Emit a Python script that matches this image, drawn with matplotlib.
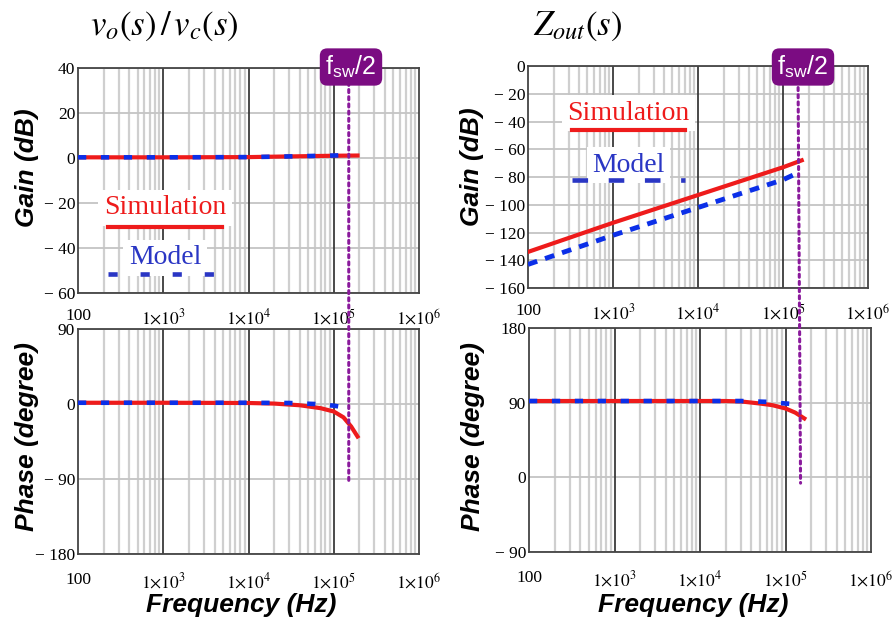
import matplotlib
matplotlib.use("Agg")
import matplotlib.pyplot as plt
from matplotlib.patches import ConnectionPatch
from matplotlib.lines import Line2D
from matplotlib.ticker import FixedLocator, FixedFormatter, NullLocator
import numpy as np

plt.rcParams['mathtext.fontset'] = 'stix'

# ---- data ----
x_ticks = [1e2, 1e3, 1e4, 1e5, 1e6]
x_tick_labels = ['100', r'$1{\times}10^{3}$', r'$1{\times}10^{4}$', r'$1{\times}10^{5}$', r'$1{\times}10^{6}$']
f_half = 1.5e5

# vo/vc gain (dB)
vc_gain_sim_f = [100, 1e3, 1e4, 3e4, 1e5, 1.9e5]
vc_gain_sim = [0.3, 0.3, 0.4, 0.7, 1.0, 1.1]
vc_gain_mod_f = [100, 1e3, 1e4, 3e4, 1e5, 1.5e5]
vc_gain_mod = [0.3, 0.3, 0.4, 0.7, 1.1, 1.3]

# vo/vc phase (deg)
vc_ph_sim_f = [100, 1e3, 1e4, 2e4, 4e4, 7e4, 1e5, 1.3e5, 1.6e5, 1.9e5]
vc_ph_sim = [1.5, 1.5, 1.2, 0.5, -1.5, -5, -9, -16, -27, -39]
vc_ph_mod_f = [100, 1e3, 1e4, 3e4, 6e4, 1e5, 1.5e5]
vc_ph_mod = [1.5, 1.5, 1.5, 1.2, 0, -2, -5]

# Zout gain (dB)
z_gain_sim_f = [100, 1e3, 1e4, 1e5, 1.66e5]
z_gain_sim = [-134, -113, -93, -73, -68]
z_gain_mod_f = [100, 1e3, 1e4, 1e5, 1.5e5]
z_gain_mod = [-143, -122, -102, -82, -77]

# Zout phase (deg)
z_ph_sim_f = [100, 1e3, 1e4, 2e4, 3e4, 5e4, 7e4, 1e5, 1.3e5, 1.66e5]
z_ph_sim = [92, 92, 92, 92, 91.5, 89, 87, 83, 78, 71]
z_ph_mod_f = [100, 1e3, 1e4, 3e4, 6e4, 1e5, 1.5e5]
z_ph_mod = [92, 92, 92, 92, 91, 89, 88]

tl_yticks = [40, 20, 0, -20, -40, -60]
tr_yticks = [0, -20, -40, -60, -80, -100, -120, -140, -160]
bl_yticks = [90, 0, -90, -180]
br_yticks = [180, 90, 0, -90]

RED = '#ee1b1b'
BLUE = '#0b2fe8'
LBLUE = '#2a36c4'
PURPLE = '#7b0c82'
DOT = '#8a1a9c'
serif = 'Liberation Serif'
sans = 'Liberation Sans'

fig = plt.figure(figsize=(8.94, 6.21), dpi=100)
W, H = 894, 621


def make_ax(l, t, r, b):
    return fig.add_axes([l / W, 1 - b / H, (r - l) / W, (b - t) / H])


def ylab(v):
    return str(v) if v >= 0 else '\u2212 ' + str(-v)


def style(ax, yticks, xpad):
    ax.set_xscale('log')
    ax.set_xlim(1e2, 1e6)
    ax.set_ylim(min(yticks), max(yticks))
    ax.xaxis.set_major_locator(FixedLocator(x_ticks))
    ax.xaxis.set_major_formatter(FixedFormatter(x_tick_labels))
    ax.xaxis.set_minor_locator(NullLocator())
    ax.set_yticks(yticks)
    ax.set_yticklabels([ylab(v) for v in yticks])
    ax.tick_params(length=0, labelsize=12.5)
    ax.tick_params(axis='x', pad=xpad)
    ax.tick_params(axis='y', pad=2)
    for lb in ax.get_xticklabels() + ax.get_yticklabels():
        lb.set_fontfamily(serif)
    for dec in [1e2, 1e3, 1e4, 1e5]:
        for k in range(2, 10):
            ax.axvline(dec * k, color='#cfcfcf', lw=1.6, zorder=0)
    for dec in [1e3, 1e4, 1e5]:
        ax.axvline(dec, color='#3a3a3a', lw=1.3, zorder=0.5)
    for v in yticks:
        ax.axhline(v, color='#c4c4c4', lw=1.3, zorder=0.4)
    for s in ax.spines.values():
        s.set_color('#444444')
        s.set_linewidth(1.3)


ax_tl = make_ax(78, 68, 419, 293)
ax_tr = make_ax(528, 66, 868, 288)
ax_bl = make_ax(78, 329, 419, 554)
ax_br = make_ax(529, 328, 871, 552)

style(ax_tl, tl_yticks, 11)
style(ax_tr, tr_yticks, 11)
style(ax_bl, bl_yticks, 13)
style(ax_br, br_yticks, 13)

ax_tl.plot(vc_gain_sim_f, vc_gain_sim, color=RED, lw=3, zorder=3)
ax_tl.plot(vc_gain_mod_f, vc_gain_mod, color=BLUE, lw=3.3, dashes=(1.8, 3.2), zorder=4)
ax_bl.plot(vc_ph_sim_f, vc_ph_sim, color=RED, lw=3, zorder=3)
ax_bl.plot(vc_ph_mod_f, vc_ph_mod, color=BLUE, lw=3.3, dashes=(1.8, 3.2), zorder=4)
ax_tr.plot(z_gain_sim_f, z_gain_sim, color=RED, lw=3, zorder=3)
ax_tr.plot(z_gain_mod_f, z_gain_mod, color=BLUE, lw=3.5, dashes=(2.0, 1.7), zorder=4)
ax_br.plot(z_ph_sim_f, z_ph_sim, color=RED, lw=3, zorder=3)
ax_br.plot(z_ph_mod_f, z_ph_mod, color=BLUE, lw=3.3, dashes=(1.8, 3.2), zorder=4)

# hand-made legends
def legend(ax, xs, ys, ym, ls, lm, dash):
    ax.text(sum(xs) / 2, ys, 'Simulation', transform=ax.transAxes, color=RED,
            fontsize=20, family=serif, ha='center', va='center', zorder=5,
            bbox=dict(fc='white', ec='none', pad=4))
    ax.text(sum(xs) / 2, ym, 'Model', transform=ax.transAxes, color=LBLUE,
            fontsize=20, family=serif, ha='center', va='center', zorder=5,
            bbox=dict(fc='white', ec='none', pad=4))
    ax.add_line(Line2D(xs, [ls, ls], transform=ax.transAxes, color=RED, lw=3, zorder=6))
    ax.add_line(Line2D(xs, [lm, lm], transform=ax.transAxes, color=LBLUE, lw=3.3,
                       dashes=dash, zorder=6))

legend(ax_tl, [0.088, 0.422], 0.378, 0.156, 0.293, 0.084, (2.0, 5.0))
legend(ax_tr, [0.129, 0.462], 0.788, 0.554, 0.712, 0.486, (3.4, 4.5))

# fsw/2 markers
for ax_top, ax_bot, y_top, y_bot, xc in [(ax_tl, ax_bl, 40, -95, 351), (ax_tr, ax_br, 0, -7, 803)]:
    con = ConnectionPatch(xyA=(f_half, y_top), coordsA=ax_top.transData,
                          xyB=(f_half, y_bot), coordsB=ax_bot.transData,
                          color=DOT, lw=2.2, linestyle=(0, (1.0, 1.35)), zorder=8)
    fig.add_artist(con)
    fig.text(xc / W, 1 - 67 / H, r'f$_{\mathregular{sw}}$/2', color='white',
             fontsize=18, family=sans, ha='center', va='center', zorder=10,
             bbox=dict(boxstyle='round,pad=0.22,rounding_size=0.3', fc=PURPLE, ec='none'))

# titles
fig.text(164 / W, 1 - 26 / H, r'$v_o(s)\,/\,v_c(s)$', fontsize=25, ha='center', va='center')
fig.text(578 / W, 1 - 26 / H, r'$Z_{out}(s)$', fontsize=25, ha='center', va='center')

# axis labels
lab = dict(fontsize=19, family=sans, weight='bold', style='italic', ha='center', va='center')
fig.text(27 / W, 1 - 168 / H, 'Gain (dB)', rotation=90, **lab)
fig.text(472 / W, 1 - 167 / H, 'Gain (dB)', rotation=90, **lab)
fig.text(27 / W, 1 - 437 / H, 'Phase (degree)', rotation=90, **lab)
fig.text(473 / W, 1 - 437 / H, 'Phase (degree)', rotation=90, **lab)
fig.text(241 / W, 1 - 605 / H, 'Frequency (Hz)', **lab)
fig.text(693 / W, 1 - 605 / H, 'Frequency (Hz)', **lab)

fig.savefig('out.png', dpi=100)
